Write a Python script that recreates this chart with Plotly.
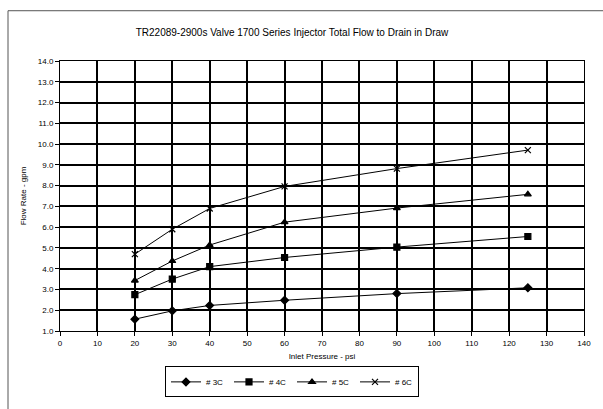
import plotly.graph_objects as go

pressure = [20, 30, 40, 60, 90, 125]
flow_3c = [1.57, 1.97, 2.23, 2.48, 2.80, 3.08]
flow_4c = [2.75, 3.50, 4.10, 4.54, 5.04, 5.55]
flow_5c = [3.43, 4.37, 5.14, 6.24, 6.92, 7.58]
flow_6c = [4.70, 5.90, 6.90, 7.96, 8.82, 9.71]
series_names = ["# 3C", "# 4C", "# 5C", "# 6C"]
symbols = ["diamond", "square", "triangle-up", "x-thin"]
sizes = [6, 6, 6, 6]

FONT = "Liberation Sans, Arial, sans-serif"

fig = go.Figure()
for name, vals, sym, sz in zip(series_names, [flow_3c, flow_4c, flow_5c, flow_6c], symbols, sizes):
    fig.add_trace(go.Scatter(
        x=pressure, y=vals, name=name, mode="lines+markers",
        line=dict(color="black", width=1),
        marker=dict(symbol=sym, size=sz, color="black",
                    line=dict(color="black", width=1.2)),
    ))

fig.update_layout(
    width=603, height=409,
    margin=dict(l=60, r=19, t=61, b=58),
    paper_bgcolor="white", plot_bgcolor="white",
    font=dict(family=FONT, size=8, color="black"),
    title=dict(text="TR22089-2900s Valve 1700 Series Injector Total Flow to Drain in Draw",
               x=292/603, xanchor="center", y=1-32/409, yanchor="middle",
               font=dict(size=10, family=FONT, color="black")),
    xaxis=dict(range=[0, 140], tickmode="linear", tick0=0, dtick=10,
               showgrid=True, gridcolor="black", gridwidth=1.6,
               showline=True, linecolor="black", linewidth=1, mirror=True,
               ticks="outside", ticklen=4, tickcolor="black",
               zeroline=False,
               title=dict(text="Inlet Pressure - psi", standoff=6,
                          font=dict(size=8, family=FONT))),
    yaxis=dict(range=[1, 14], tickmode="linear", tick0=1, dtick=1,
               tickformat=".1f",
               showgrid=True, gridcolor="black", gridwidth=1.6,
               showline=True, linecolor="black", linewidth=1, mirror=True,
               ticks="outside", ticklen=4, tickcolor="black",
               zeroline=False,
               title=dict(text="Flow Rate - gpm", standoff=10,
                          font=dict(size=8, family=FONT))),
    legend=dict(orientation="h", x=(292-60)/524, xanchor="center",
                y=-(389-351)/290, yanchor="top",
                bordercolor="black", borderwidth=1, bgcolor="white",
                font=dict(size=8, family=FONT),
                entrywidth=18, entrywidthmode="pixels",
                itemwidth=30, tracegroupgap=0),
    showlegend=True,
)

fig.add_shape(type="rect", xref="paper", yref="paper",
              x0=(8-60)/524, x1=1.2, y0=-0.3, y1=1+(61-7)/290,
              line=dict(color="#555555", width=1), fillcolor="rgba(0,0,0,0)",
              layer="below")

fig.write_html("out.html",
               config={"displayModeBar": False},
               post_script="document.body.style.margin='0';document.body.style.overflow='hidden';")
